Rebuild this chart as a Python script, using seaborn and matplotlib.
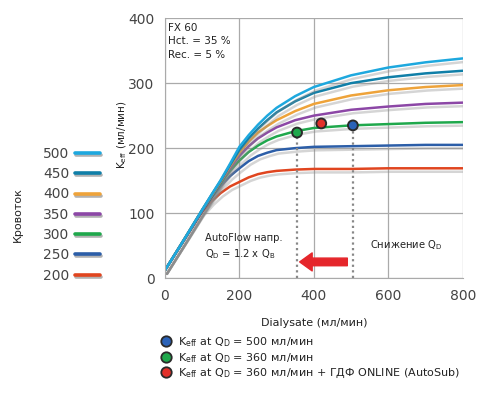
import matplotlib
matplotlib.use("Agg")
import matplotlib.pyplot as plt
import matplotlib.patheffects as pe
from matplotlib.lines import Line2D
import seaborn as sns
import pandas as pd

# Dialysate flow (x) and K_eff per blood flow
dialysate = [0, 50, 100, 125, 150, 175, 200, 225, 250, 275, 300, 350, 400, 500, 600, 700, 800]
k_500 = [12, 58, 105, 128, 151, 176, 202, 220, 236, 250, 262, 280, 294, 312, 324, 332, 338]
k_450 = [12, 58, 105, 128, 150, 174, 197, 215, 230, 243, 255, 272, 285, 300, 309, 315, 319]
k_400 = [12, 58, 105, 127, 149, 172, 193, 210, 224, 234, 243, 257, 268, 281, 289, 294, 297]
k_350 = [12, 58, 104, 126, 148, 169, 188, 203, 215, 224, 232, 243, 250, 259, 264, 268, 270]
k_300 = [12, 58, 104, 125, 146, 165, 181, 194, 204, 212, 218, 226, 231, 235, 237, 239, 240]
k_250 = [12, 57, 103, 123, 142, 157, 169, 180, 188, 193, 197, 200, 202, 203, 204, 205, 205]
k_200 = [12, 57, 102, 118, 131, 141, 148, 155, 160, 163, 165, 167, 168, 168, 169, 169, 169]

blood_flows = ["500", "450", "400", "350", "300", "250", "200"]
series = [k_500, k_450, k_400, k_350, k_300, k_250, k_200]
colors = ["#1ea8de", "#107fa8", "#eea33a", "#8c47a6", "#1fa84c", "#2c5ea8", "#e0451f"]

# marked points
dot_x = [505, 355, 420]
dot_y = [235, 224, 238]
dot_colors = ["#2a62b8", "#1fa84c", "#e2302a"]
dot_labels = [r"K$_{\mathrm{eff}}$ at Q$_{\mathrm{D}}$ = 500 мл/мин",
              r"K$_{\mathrm{eff}}$ at Q$_{\mathrm{D}}$ = 360 мл/мин",
              r"K$_{\mathrm{eff}}$ at Q$_{\mathrm{D}}$ = 360 мл/мин + ГДФ ONLINE (AutoSub)"]

rows = []
for bf, vals in zip(blood_flows, series):
    for x, y in zip(dialysate, vals):
        rows.append({"Dialysate": x, "Keff": y, "Кровоток": bf})
df = pd.DataFrame(rows)

sns.set_style("white")
plt.rcParams["font.family"] = ["DejaVu Sans"]
plt.rcParams["mathtext.fontset"] = "dejavusans"

fig = plt.figure(figsize=(4.78, 3.94), dpi=100)
ax = fig.add_axes([0.345, 0.294, 0.623, 0.66])

sns.lineplot(data=df, x="Dialysate", y="Keff", hue="Кровоток",
             hue_order=blood_flows[::-1], palette=dict(zip(blood_flows, colors)),
             linewidth=1.8, legend=False, ax=ax)
for ln in ax.lines:
    ln.set_path_effects([pe.SimpleLineShadow(offset=(1.5, -2.5), shadow_color="#888888", alpha=0.35),
                         pe.Normal()])

# dotted drop lines and dots
for x, y in zip(dot_x[:2], dot_y[:2]):
    ax.plot([x, x], [0, y], color="#888888", linestyle=(0, (1, 1.5)), linewidth=1.6, zorder=3)
ax.scatter(dot_x, dot_y, c=dot_colors, s=50, edgecolors="#2a2a2a", linewidths=1.4, zorder=5)

ax.set_xlim(0, 800)
ax.set_ylim(0, 400)
ax.set_xticks([0, 200, 400, 600, 800])
ax.set_xticks([100, 300, 500, 700], minor=True)
ax.set_yticks([0, 100, 200, 300, 400])
ax.grid(True, which="major", color="#aaaaaa", linewidth=0.9)
for s in ["top", "right"]:
    ax.spines[s].set_visible(False)
for s in ["left", "bottom"]:
    ax.spines[s].set_color("#aaaaaa")
ax.tick_params(axis="both", which="both", direction="out", length=4, color="#aaaaaa",
               labelsize=10, labelcolor="#444444")
ax.set_xlabel("Dialysate (мл/мин)", fontsize=8, color="#222222", labelpad=11)
ax.set_ylabel(r"K$_{\mathrm{eff}}$ (мл/мин)", fontsize=7.5, color="#222222")
ax.yaxis.set_label_coords(-0.12, 0.55)

ax.text(8, 393, "FX 60\nHct. = 35 %\nRec. = 5 %", fontsize=7.5, va="top", ha="left",
        color="#222222", linespacing=1.45)
ax.text(108, 48, "AutoFlow напр.\n" + r"Q$_{\mathrm{D}}$ = 1.2 x Q$_{\mathrm{B}}$", fontsize=7.2,
        va="center", ha="left", color="#222222", linespacing=1.4)
ax.text(552, 51, r"Снижение Q$_{\mathrm{D}}$", fontsize=7.2, va="center", ha="left", color="#222222")
ax.annotate("", xy=(362, 25), xytext=(490, 25),
            arrowprops=dict(arrowstyle="simple,head_width=1.3,head_length=0.9,tail_width=0.55",
                            color="#e5262b", shrinkA=0, shrinkB=0))

# blood flow legend on the left
bf_handles = [Line2D([0], [0], color=c, linewidth=2.6, solid_capstyle="round",
                     path_effects=[pe.SimpleLineShadow(offset=(1, -1.5), alpha=0.3), pe.Normal()])
              for c in colors]
fig.legend(bf_handles, blood_flows, loc="upper right", bbox_to_anchor=(100 / 478, 1 - 147 / 394),
           frameon=False, markerfirst=False, fontsize=10, labelcolor="#444444",
           handlelength=1.8, handletextpad=0.4, labelspacing=0.45, borderaxespad=0, borderpad=0)
fig.text(0.038, 0.455, "Кровоток", rotation=90, fontsize=8, color="#222222", ha="center", va="center")

# dot legend at the bottom
dot_handles = [Line2D([0], [0], marker="o", linestyle="none", markersize=7.5,
                      markerfacecolor=c, markeredgecolor="#2a2a2a", markeredgewidth=1.3)
               for c in dot_colors]
fig.legend(dot_handles, dot_labels, loc="upper left", bbox_to_anchor=(160 / 478, 1 - 335 / 394),
           frameon=False, fontsize=8, labelcolor="#222222", handletextpad=0.6,
           labelspacing=0.2, borderaxespad=0, borderpad=0, handlelength=1.0)

fig.savefig("out.png", dpi=100)
